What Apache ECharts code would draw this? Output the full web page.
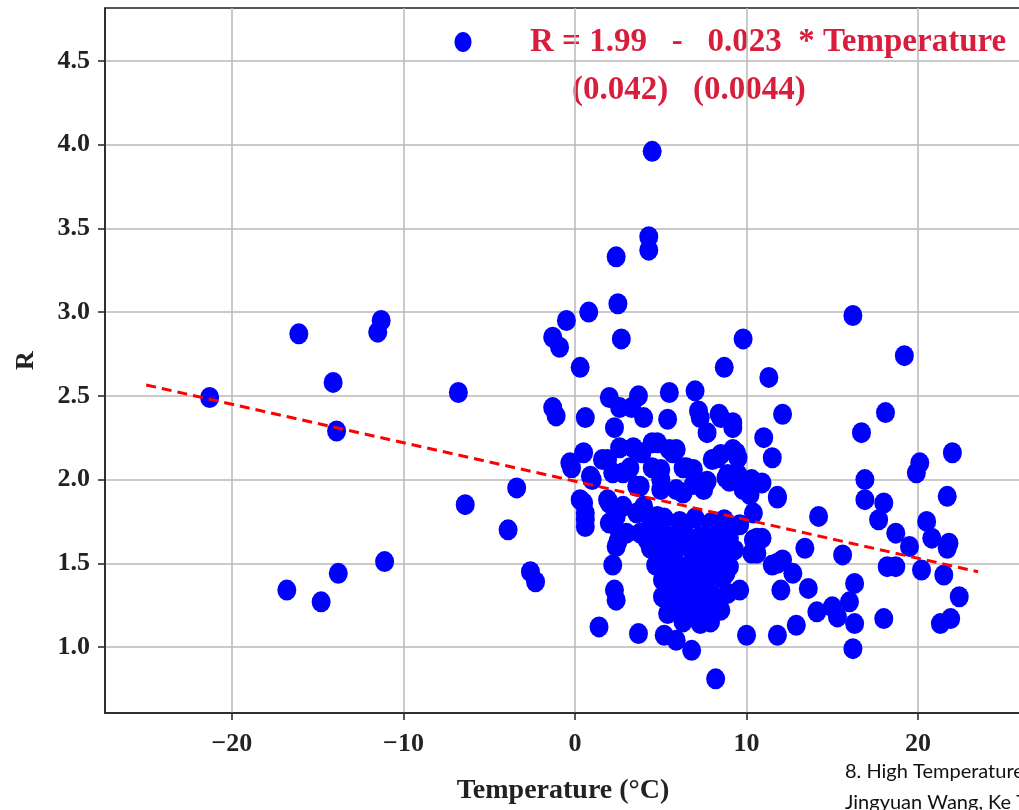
<!DOCTYPE html>
<html>
<head>
<meta charset="utf-8">
<script src="https://cdn.jsdelivr.net/npm/echarts@6/dist/echarts.min.js"></script>
<style>
  html, body { margin: 0; padding: 0; background: #fff; }
  #param { width: 1019px; height: 810px; }
</style>
</head>
<body>
<div id="param"></div>
<script>
// [temperature, R] pairs, grouped by region of the plot
var coldPoints = [
    [-21.3, 2.49], [-16.1, 2.87], [-11.3, 2.95], [-11.5, 2.88], [-14.1, 2.58], [-13.9, 2.29],
    [-6.8, 2.52], [-3.4, 1.95], [-6.4, 1.85], [-3.9, 1.70], [-2.6, 1.45], [-2.3, 1.39],
    [-11.1, 1.51], [-13.8, 1.44], [-16.8, 1.34], [-14.8, 1.27]
];
var highPoints = [
    [4.5, 3.96], [4.3, 3.45], [4.3, 3.37], [2.4, 3.33], [2.5, 3.05], [0.8, 3.00], [-0.5, 2.95],
    [-1.3, 2.85], [-0.9, 2.79], [2.7, 2.84], [0.3, 2.67], [9.8, 2.84], [8.7, 2.67], [11.3, 2.61],
    [-1.3, 2.43], [-1.1, 2.38], [0.6, 2.37], [2.0, 2.49], [2.6, 2.43], [3.7, 2.50], [4.0, 2.37],
    [5.5, 2.52], [7.0, 2.53], [7.2, 2.41], [8.5, 2.37], [9.2, 2.31], [7.7, 2.28], [11.0, 2.25],
    [12.1, 2.39], [11.5, 2.13], [2.3, 2.31], [3.3, 2.43], [7.3, 2.37], [8.4, 2.39], [9.2, 2.34]
];
var midPoints = [
    [0.5, 2.16], [-0.3, 2.10], [-0.2, 2.07], [3.4, 2.19], [4.5, 2.22], [5.4, 2.36], [5.9, 2.18],
    [6.5, 2.07], [8.0, 2.12], [9.4, 2.16], [9.0, 1.99], [10.2, 1.96], [1.9, 2.12], [2.8, 2.04],
    [0.9, 2.02], [9.2, 2.18], [8.3, 2.13], [1.6, 2.12], [2.6, 2.19], [3.9, 2.16], [4.8, 2.22],
    [5.5, 2.18], [4.5, 2.07], [3.2, 2.07], [2.2, 2.04], [1.0, 2.00], [6.3, 2.07], [6.9, 1.97],
    [7.7, 1.99], [8.9, 2.03], [9.8, 1.94], [10.3, 2.00], [0.5, 1.86], [0.6, 1.76], [2.0, 1.86],
    [2.0, 1.74], [2.8, 1.84], [3.6, 1.96], [5.0, 1.94], [5.9, 1.94], [4.0, 1.84], [3.0, 1.68],
    [5.0, 1.72], [4.2, 1.64], [8.5, 2.15], [9.5, 2.13], [8.8, 2.01], [9.5, 2.03], [10.2, 1.91],
    [11.8, 1.89], [6.9, 2.06], [5.7, 2.16], [5.0, 2.06], [7.5, 1.97], [0.3, 1.88], [0.6, 1.80],
    [0.6, 1.72], [1.9, 1.88], [2.4, 1.78], [2.6, 1.68], [3.8, 1.96], [5.0, 2.00], [6.3, 1.92],
    [7.5, 1.94], [11.8, 1.90], [10.4, 1.80], [3.6, 1.80], [4.8, 1.78], [3.8, 1.68], [2.5, 1.63],
    [10.9, 1.98]
];
var clusterPoints = [
    [4.4, 1.76], [5.2, 1.77], [6.1, 1.75], [7.0, 1.77], [7.9, 1.74], [8.7, 1.76], [9.6, 1.73],
    [4.7, 1.67], [5.5, 1.66], [6.4, 1.68], [7.3, 1.66], [8.2, 1.67], [9.0, 1.65],
    [5.0, 1.58], [5.8, 1.57], [6.7, 1.59], [7.6, 1.58], [8.5, 1.57], [9.3, 1.58],
    [4.7, 1.49], [5.5, 1.50], [6.4, 1.48], [7.3, 1.49], [8.2, 1.50], [9.0, 1.48],
    [5.1, 1.40], [5.9, 1.41], [6.8, 1.39], [7.7, 1.40], [8.6, 1.41],
    [5.4, 1.31], [6.3, 1.32], [7.2, 1.30], [8.0, 1.31], [8.9, 1.32],
    [5.8, 1.22], [6.7, 1.23], [7.6, 1.21], [8.5, 1.22], [6.3, 1.15], [7.3, 1.14],
    [6.0, 1.62], [7.0, 1.53], [7.8, 1.45], [6.6, 1.36], [8.0, 1.62], [5.3, 1.45], [8.8, 1.44],
    [7.1, 1.25], [4.4, 1.60], [2.4, 1.60], [4.4, 1.59]
];
var lowPoints = [
    [10.4, 1.64], [10.6, 1.56], [11.8, 1.50], [2.2, 1.49], [2.3, 1.34], [2.4, 1.28], [1.4, 1.12],
    [3.7, 1.08], [5.2, 1.07], [5.9, 1.04], [6.8, 0.98], [8.2, 0.81], [7.9, 1.15], [10.0, 1.07],
    [11.8, 1.07], [5.1, 1.30], [5.4, 1.20], [6.5, 1.18], [9.6, 1.34], [12.0, 1.34], [8.2, 1.28],
    [10.6, 1.65], [10.3, 1.56]
];
var warmPoints = [
    [16.2, 2.98], [19.2, 2.74], [18.1, 2.40], [16.7, 2.28], [22.0, 2.16], [20.1, 2.10], [19.9, 2.04],
    [16.9, 2.00], [16.9, 1.88], [18.0, 1.86], [17.7, 1.76], [21.7, 1.90], [20.5, 1.75], [20.8, 1.65],
    [21.8, 1.62], [21.7, 1.59], [18.7, 1.68], [19.5, 1.60], [20.2, 1.46], [21.5, 1.43], [18.2, 1.48],
    [18.7, 1.48], [22.4, 1.30], [21.3, 1.14], [21.9, 1.17], [18.0, 1.17], [16.2, 0.99], [16.3, 1.14],
    [16.0, 1.27], [16.3, 1.38], [15.3, 1.18], [15.0, 1.24], [14.1, 1.21], [12.9, 1.13], [13.6, 1.35],
    [15.6, 1.55], [13.4, 1.59], [14.2, 1.78], [12.7, 1.44], [12.1, 1.52], [11.5, 1.49], [10.9, 1.65]
];

// fitted line R = 1.99 - 0.023 * Temperature
var fitIntercept = 1.99;
var fitSlope = -0.023;
var fitRange = [-25, 23.5];

var xTicks = [-20, -10, 0, 10, 20];
var yTicks = [1.0, 1.5, 2.0, 2.5, 3.0, 3.5, 4.0, 4.5];

var allPoints = coldPoints.concat(highPoints, midPoints, clusterPoints, lowPoints, warmPoints);
var fitLine = fitRange.map(function (t) { return [t, fitIntercept + fitSlope * t]; });

var dot = 'path://M0 50a50 50 0 1 0 100 0a50 50 0 1 0 -100 0z';
var serif = '"Liberation Serif", "Times New Roman", serif';
var red = '#d81e3c';

var myChart = echarts.init(document.getElementById('param'));

var option = {
    animation: false,
    backgroundColor: '#fff',
    grid: {
        left: 105, top: 8, right: -2, bottom: 97,
        outerBoundsMode: 'none',
        show: true, borderColor: '#222', borderWidth: 1.5
    },
    xAxis: {
        type: 'value',
        min: -27.4, max: 26.0,
        name: 'Temperature (°C)',
        nameLocation: 'middle',
        nameGap: 64,
        nameTextStyle: { fontFamily: serif, fontWeight: 'bold', fontSize: 28, color: '#222' },
        axisLine: { onZero: false, lineStyle: { color: '#222', width: 1.5 } },
        axisTick: { customValues: xTicks, length: 7, lineStyle: { color: '#222', width: 1.5 } },
        axisLabel: {
            customValues: xTicks, margin: 18,
            fontFamily: serif, fontWeight: 'bold', fontSize: 26, color: '#222',
            formatter: function (v) { return v < 0 ? '\u2212' + Math.abs(v) : String(v); }
        },
        splitLine: { lineStyle: { color: '#b8b8b8', width: 1.5 } }
    },
    yAxis: {
        type: 'value',
        min: 0.606, max: 4.816,
        name: 'R',
        nameLocation: 'middle',
        nameGap: 66,
        nameTextStyle: { fontFamily: serif, fontWeight: 'bold', fontSize: 26, color: '#222' },
        axisLine: { show: true, onZero: false, lineStyle: { color: '#222', width: 1.5 } },
        axisTick: { show: true, customValues: yTicks, length: 7, lineStyle: { color: '#222', width: 1.5 } },
        axisLabel: {
            customValues: yTicks, margin: 15,
            fontFamily: serif, fontWeight: 'bold', fontSize: 26, color: '#222',
            formatter: function (v) { return v.toFixed(1); }
        },
        splitLine: { lineStyle: { color: '#b8b8b8', width: 1.5 } }
    },
    series: [{
        name: 'R',
        type: 'scatter',
        symbol: dot,
        symbolSize: [19, 21],
        itemStyle: { color: '#0000ff', opacity: 1 },
        data: allPoints,
        z: 2
    }, {
        name: 'fit',
        type: 'line',
        data: fitLine,
        symbol: 'none',
        lineStyle: { color: '#ff0000', width: 3, type: [10, 6] },
        z: 3
    }],
    graphic: [{
        // legend marker for the scatter series
        type: 'ellipse', shape: { cx: 463, cy: 42, rx: 8.5, ry: 10 },
        style: { fill: '#0000ff' }
    }, {
        type: 'text', left: 530, top: 26,
        style: { text: 'R = 1.99   -   0.023  * Temperature', fill: red, font: 'bold 33px ' + serif }
    }, {
        type: 'text', left: 572, top: 74,
        style: { text: '(0.042)   (0.0044)', fill: red, font: 'bold 33px ' + serif }
    }, {
        type: 'text', left: 845, top: 762,
        style: { text: '8. High Temperature', fill: '#111', font: '20px Lato, "Open Sans", sans-serif' }
    }, {
        type: 'text', left: 845, top: 793,
        style: { text: 'Jingyuan Wang, Ke T', fill: '#111', font: '20px Lato, "Open Sans", sans-serif' }
    }]
};

myChart.setOption(option);
</script>
</body>
</html>
